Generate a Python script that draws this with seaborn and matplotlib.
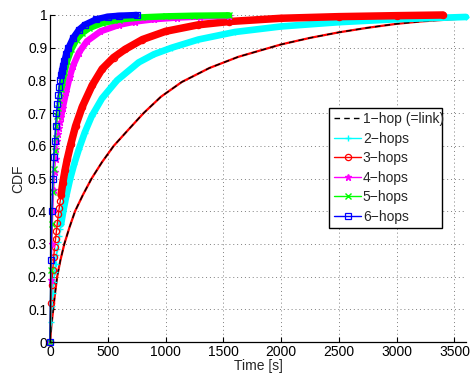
import matplotlib
matplotlib.use("Agg")
import matplotlib.pyplot as plt
from matplotlib.lines import Line2D
from matplotlib.patches import Rectangle
import seaborn as sns
import numpy as np

# ---- data (time in s, CDF) ----
hop1_t = [0, 12, 28, 44, 62, 90, 124, 168, 217, 285, 360, 450, 552, 680, 810, 960, 1140, 1380, 1629, 2000, 2250, 2500, 2750, 3000, 3200, 3400, 3600]
hop1_y = [0, 0.05, 0.1, 0.15, 0.2, 0.25, 0.3, 0.35, 0.4, 0.45, 0.5, 0.55, 0.6, 0.65, 0.7, 0.75, 0.795, 0.838, 0.872, 0.91, 0.93, 0.947, 0.961, 0.973, 0.98, 0.985, 0.99]

hop2_t = [0, 8, 16, 24, 32, 40, 48, 56, 64, 72, 80, 88, 96, 115, 140, 175, 210, 250, 300, 360, 450, 580, 767, 900, 1054, 1284, 1600, 2000, 2500, 3000, 3600]
hop2_y = [0, 0.06, 0.11, 0.15, 0.185, 0.215, 0.24, 0.265, 0.285, 0.305, 0.325, 0.345, 0.36, 0.40, 0.445, 0.50, 0.545, 0.59, 0.64, 0.69, 0.745, 0.80, 0.855, 0.88, 0.9, 0.925, 0.948, 0.965, 0.978, 0.987, 0.994]

hop3_t = [0, 8, 16, 24, 32, 40, 48, 56, 64, 72, 80, 88, 96, 110, 130, 150, 180, 221, 280, 365, 451, 550, 650, 800, 1000, 1284, 1550, 2000, 2500, 3000, 3400]
hop3_y = [0, 0.12, 0.175, 0.22, 0.26, 0.29, 0.315, 0.34, 0.365, 0.39, 0.41, 0.43, 0.45, 0.485, 0.525, 0.56, 0.605, 0.66, 0.72, 0.785, 0.835, 0.87, 0.895, 0.925, 0.95, 0.97, 0.98, 0.99, 0.995, 0.998, 1.0]

hop4_t = [0, 8, 16, 24, 32, 40, 48, 56, 64, 72, 80, 88, 96, 110, 140, 170, 200, 250, 320, 437, 600, 739, 900, 1100, 1300, 1550]
hop4_y = [0, 0.19, 0.30, 0.40, 0.465, 0.52, 0.56, 0.59, 0.615, 0.635, 0.655, 0.672, 0.688, 0.715, 0.765, 0.81, 0.845, 0.885, 0.92, 0.95, 0.97, 0.98, 0.987, 0.992, 0.995, 0.997]

hop5_t = [0, 8, 16, 24, 32, 40, 48, 56, 64, 72, 80, 88, 96, 108, 125, 150, 185, 230, 280, 340, 450, 600, 800, 1000, 1250, 1550]
hop5_y = [0, 0.22, 0.36, 0.46, 0.53, 0.585, 0.625, 0.66, 0.69, 0.715, 0.74, 0.76, 0.775, 0.795, 0.825, 0.86, 0.895, 0.925, 0.945, 0.96, 0.975, 0.986, 0.993, 0.996, 0.998, 0.999]

hop6_t = [0, 8, 16, 24, 32, 40, 48, 56, 64, 72, 80, 88, 96, 104, 112, 125, 140, 160, 200, 250, 300, 400, 500, 600, 750]
hop6_y = [0, 0.25, 0.40, 0.50, 0.567, 0.615, 0.66, 0.70, 0.728, 0.755, 0.781, 0.80, 0.815, 0.83, 0.843, 0.86, 0.88, 0.90, 0.93, 0.955, 0.97, 0.987, 0.995, 0.998, 1.0]

labels = ["1\u2212hop (=link)", "2\u2212hops", "3\u2212hops", "4\u2212hops", "5\u2212hops", "6\u2212hops"]
x_ticks = [0, 500, 1000, 1500, 2000, 2500, 3000, 3500]
y_ticks = [0, 0.1, 0.2, 0.3, 0.4, 0.5, 0.6, 0.7, 0.8, 0.9, 1.0]
y_tick_labels = ["0", "0.1", "0.2", "0.3", "0.4", "0.5", "0.6", "0.7", "0.8", "0.9", "1"]

# ---- styling ----
sns.set_style("white")
plt.rcParams["font.family"] = ["Liberation Sans", "DejaVu Sans"]
plt.rcParams["font.size"] = 10

fig = plt.figure(figsize=(4.70, 3.76), dpi=100)
ax = fig.add_axes([50 / 470, 34 / 376, 416 / 470, 327 / 376])

BAND_FROM = 96  # seconds: beyond this the dense markers merge into a thick band

# 1-hop: red solid underneath, black dashed on top
sns.lineplot(x=hop1_t, y=hop1_y, ax=ax, color="#ff0000", linewidth=1.6,
             estimator=None, sort=False, legend=False, clip_on=False)
sns.lineplot(x=hop1_t, y=hop1_y, ax=ax, color="black", linewidth=1.0,
             linestyle=(0, (4, 3)), estimator=None, sort=False, legend=False, clip_on=False)

series = [
    (hop2_t, hop2_y, "#00ffff", "+", 5, 1.0, "full", 4.8),
    (hop3_t, hop3_y, "#ff0000", "o", 4.5, 0.9, "none", 5.4),
    (hop4_t, hop4_y, "#ff00ff", "*", 5, 1.0, "full", 4.6),
    (hop5_t, hop5_y, "#00ff00", "x", 4, 1.0, "full", 4.6),
    (hop6_t, hop6_y, "#0000ff", "s", 4, 0.9, "none", 4.6),
]

for t, y, col, mk, ms, mew, fill, bw in series:
    t = np.asarray(t, dtype=float)
    y = np.asarray(y, dtype=float)
    mask = t >= BAND_FROM
    sns.lineplot(x=t[mask], y=y[mask], ax=ax, color=col, linewidth=bw,
                 estimator=None, sort=False, legend=False, clip_on=False,
                 solid_capstyle="round", solid_joinstyle="round")
    mfc = col if fill == "full" else "none"
    sns.lineplot(x=t, y=y, ax=ax, color=col, linewidth=1.0, marker=mk,
                 markersize=ms, markeredgewidth=mew, markeredgecolor=col,
                 markerfacecolor=mfc, estimator=None, sort=False,
                 legend=False, clip_on=False)

# legend (text spills slightly past the box, as in the reference)
handles = [Line2D([], [], color="black", linestyle=(0, (4, 3)), linewidth=1.0)]
for t, y, col, mk, ms, mew, fill, bw in series:
    mfc = col if fill == "full" else "none"
    handles.append(Line2D([], [], color=col, linewidth=1.0, marker=mk, markersize=ms,
                          markeredgewidth=mew, markeredgecolor=col, markerfacecolor=mfc))
leg = ax.legend(handles, labels, loc="upper left", bbox_to_anchor=(0.683, 0.703),
                frameon=False, fontsize=10, handlelength=1.95, handletextpad=0.12,
                labelspacing=0.4, borderpad=0, borderaxespad=0)
box = Rectangle((0.6707, 0.3495), 0.9423 - 0.6707, 0.7147 - 0.3495,
                transform=ax.transAxes, facecolor="white", edgecolor="black",
                linewidth=1.0, zorder=4.9, clip_on=False)
ax.add_patch(box)
leg.set_zorder(5)

ax.set_xlim(0, 3600)
ax.set_ylim(0, 1)
ax.set_xticks(x_ticks)
ax.set_xticklabels([str(v) for v in x_ticks])
ax.set_yticks(y_ticks)
ax.set_yticklabels(y_tick_labels)
ax.grid(True, linestyle=(0, (1, 3)), color="#7f7f7f", linewidth=0.7)
ax.set_axisbelow(True)
for s in ["top", "right"]:
    ax.spines[s].set_visible(False)
for s in ["left", "bottom"]:
    ax.spines[s].set_color("black")
    ax.spines[s].set_linewidth(0.9)
ax.tick_params(direction="in", length=3.5, width=0.8, colors="black",
               labelsize=10, pad=2, bottom=True, left=True)
ax.set_xlabel("Time [s]", fontsize=10, labelpad=0)
ax.set_ylabel("CDF", fontsize=10, labelpad=2)

fig.savefig("out.png", dpi=100)
